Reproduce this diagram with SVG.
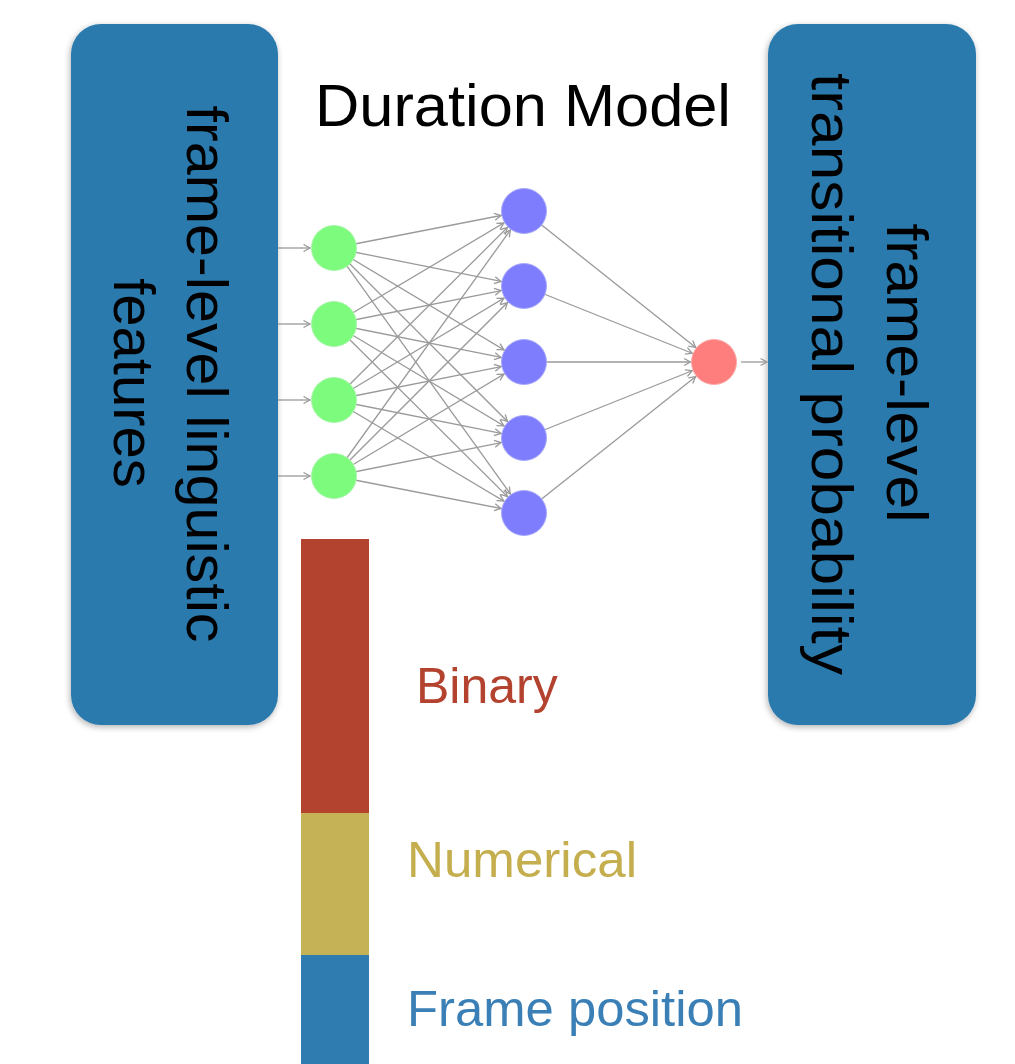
<svg xmlns="http://www.w3.org/2000/svg" width="1015" height="1064" viewBox="0 0 1015 1064">
  <style>
    .lbl { font-family: "Liberation Sans", Arial, sans-serif; font-size: 58px; fill: #000; }
    .box { fill: #2c7aae; }
    .edge { stroke: #9a9a9a; stroke-width: 1.3; fill: none; marker-end: url(#arr); }
    .g { fill: #7dfb7d; stroke: #a8f5a8; stroke-width: 1; }
    .b { fill: #7d7dfd; stroke: #a9a9fb; stroke-width: 1; }
    .r { fill: #fe7d7d; stroke: #fbabab; stroke-width: 1; }
    .leg { font-family: "Liberation Sans", Arial, sans-serif; font-size: 50px; }
  </style>
  <defs>
    <marker id="arr" markerUnits="userSpaceOnUse" markerWidth="40" markerHeight="12" viewBox="-36 -6 40 12" refX="0" refY="0" orient="auto" overflow="visible">
      <path d="M-30,-3.5 L-23.5,0 L-30,3.5" fill="none" stroke="#9a9a9a" stroke-width="1.3"/>
    </marker>
    <marker id="arr0" markerUnits="userSpaceOnUse" markerWidth="12" markerHeight="12" viewBox="-8 -6 12 12" refX="0" refY="0" orient="auto" overflow="visible">
      <path d="M-6.5,-3.5 L0,0 L-6.5,3.5" fill="none" stroke="#9a9a9a" stroke-width="1.3"/>
    </marker>
    <filter id="sh" x="-10%" y="-5%" width="120%" height="110%">
      <feDropShadow dx="-1" dy="2" stdDeviation="3" flood-color="#000" flood-opacity="0.3"/>
    </filter>
  </defs>
  <rect width="1015" height="1064" fill="#fff"/>

  <g id="input-box">
    <rect class="box" x="71" y="24" width="207" height="701" rx="30" ry="30" filter="url(#sh)"/>
    <text class="lbl" transform="translate(187,374) rotate(90)" text-anchor="middle" textLength="537" lengthAdjust="spacingAndGlyphs">frame-level linguistic</text>
    <text class="lbl" transform="translate(114,383) rotate(90)" text-anchor="middle">features</text>
  </g>

  <g id="output-box">
    <rect class="box" x="768" y="24" width="208" height="701" rx="30" ry="30" filter="url(#sh)"/>
    <text class="lbl" transform="translate(887,373) rotate(90)" text-anchor="middle" textLength="299" lengthAdjust="spacingAndGlyphs">frame-level</text>
    <text class="lbl" transform="translate(812,374) rotate(90)" text-anchor="middle" textLength="602" lengthAdjust="spacingAndGlyphs">transitional probability</text>
  </g>

  <g id="title">
    <text x="315" y="126" font-family="Liberation Sans, Arial, sans-serif" font-size="60" fill="#000" textLength="416" lengthAdjust="spacingAndGlyphs">Duration Model</text>
  </g>

  <g id="connectors">
    <!-- inputs -->
    <line x1="278" y1="248" x2="310" y2="248" stroke="#9a9a9a" stroke-width="1.3" marker-end="url(#arr0)"/>
    <line x1="278" y1="324" x2="310" y2="324" stroke="#9a9a9a" stroke-width="1.3" marker-end="url(#arr0)"/>
    <line x1="278" y1="400" x2="310" y2="400" stroke="#9a9a9a" stroke-width="1.3" marker-end="url(#arr0)"/>
    <line x1="278" y1="476" x2="310" y2="476" stroke="#9a9a9a" stroke-width="1.3" marker-end="url(#arr0)"/>
    <!-- green to blue -->
    <line class="edge" x1="334" y1="248" x2="524" y2="211"/>
    <line class="edge" x1="334" y1="248" x2="524" y2="286"/>
    <line class="edge" x1="334" y1="248" x2="524" y2="362"/>
    <line class="edge" x1="334" y1="248" x2="524" y2="438"/>
    <line class="edge" x1="334" y1="248" x2="524" y2="513"/>
    <line class="edge" x1="334" y1="324" x2="524" y2="211"/>
    <line class="edge" x1="334" y1="324" x2="524" y2="286"/>
    <line class="edge" x1="334" y1="324" x2="524" y2="362"/>
    <line class="edge" x1="334" y1="324" x2="524" y2="438"/>
    <line class="edge" x1="334" y1="324" x2="524" y2="513"/>
    <line class="edge" x1="334" y1="400" x2="524" y2="211"/>
    <line class="edge" x1="334" y1="400" x2="524" y2="286"/>
    <line class="edge" x1="334" y1="400" x2="524" y2="362"/>
    <line class="edge" x1="334" y1="400" x2="524" y2="438"/>
    <line class="edge" x1="334" y1="400" x2="524" y2="513"/>
    <line class="edge" x1="334" y1="476" x2="524" y2="211"/>
    <line class="edge" x1="334" y1="476" x2="524" y2="286"/>
    <line class="edge" x1="334" y1="476" x2="524" y2="362"/>
    <line class="edge" x1="334" y1="476" x2="524" y2="438"/>
    <line class="edge" x1="334" y1="476" x2="524" y2="513"/>
    <!-- blue to red -->
    <line class="edge" x1="524" y1="211" x2="714" y2="362"/>
    <line class="edge" x1="524" y1="286" x2="714" y2="362"/>
    <line class="edge" x1="524" y1="362" x2="714" y2="362"/>
    <line class="edge" x1="524" y1="438" x2="714" y2="362"/>
    <line class="edge" x1="524" y1="513" x2="714" y2="362"/>
    <!-- output -->
    <line x1="741" y1="362" x2="767" y2="362" stroke="#9a9a9a" stroke-width="1.3" marker-end="url(#arr0)"/>
  </g>

  <g id="input-layer">
    <circle id="in1" class="g" cx="334" cy="248" r="22.5"/>
    <circle id="in2" class="g" cx="334" cy="324" r="22.5"/>
    <circle id="in3" class="g" cx="334" cy="400" r="22.5"/>
    <circle id="in4" class="g" cx="334" cy="476" r="22.5"/>
  </g>
  <g id="hidden-layer">
    <circle id="h1" class="b" cx="524" cy="211" r="22.5"/>
    <circle id="h2" class="b" cx="524" cy="286" r="22.5"/>
    <circle id="h3" class="b" cx="524" cy="362" r="22.5"/>
    <circle id="h4" class="b" cx="524" cy="438" r="22.5"/>
    <circle id="h5" class="b" cx="524" cy="513" r="22.5"/>
  </g>
  <g id="output-layer">
    <circle id="out" class="r" cx="714" cy="362" r="22.5"/>
  </g>

  <g id="feature-bar">
    <rect x="301" y="539" width="68" height="274" fill="#b3432f"/>
    <rect x="301" y="813" width="68" height="142" fill="#c6b256"/>
    <rect x="301" y="955" width="68" height="109" fill="#2e7cb0"/>
  </g>

  <g id="legend">
    <text class="leg" x="416" y="703" fill="#b3432f">Binary</text>
    <text class="leg" x="407" y="877" fill="#c4ae4e" textLength="230" lengthAdjust="spacingAndGlyphs">Numerical</text>
    <text class="leg" x="407" y="1026" fill="#3a7fb5" textLength="336" lengthAdjust="spacingAndGlyphs">Frame position</text>
  </g>
</svg>
